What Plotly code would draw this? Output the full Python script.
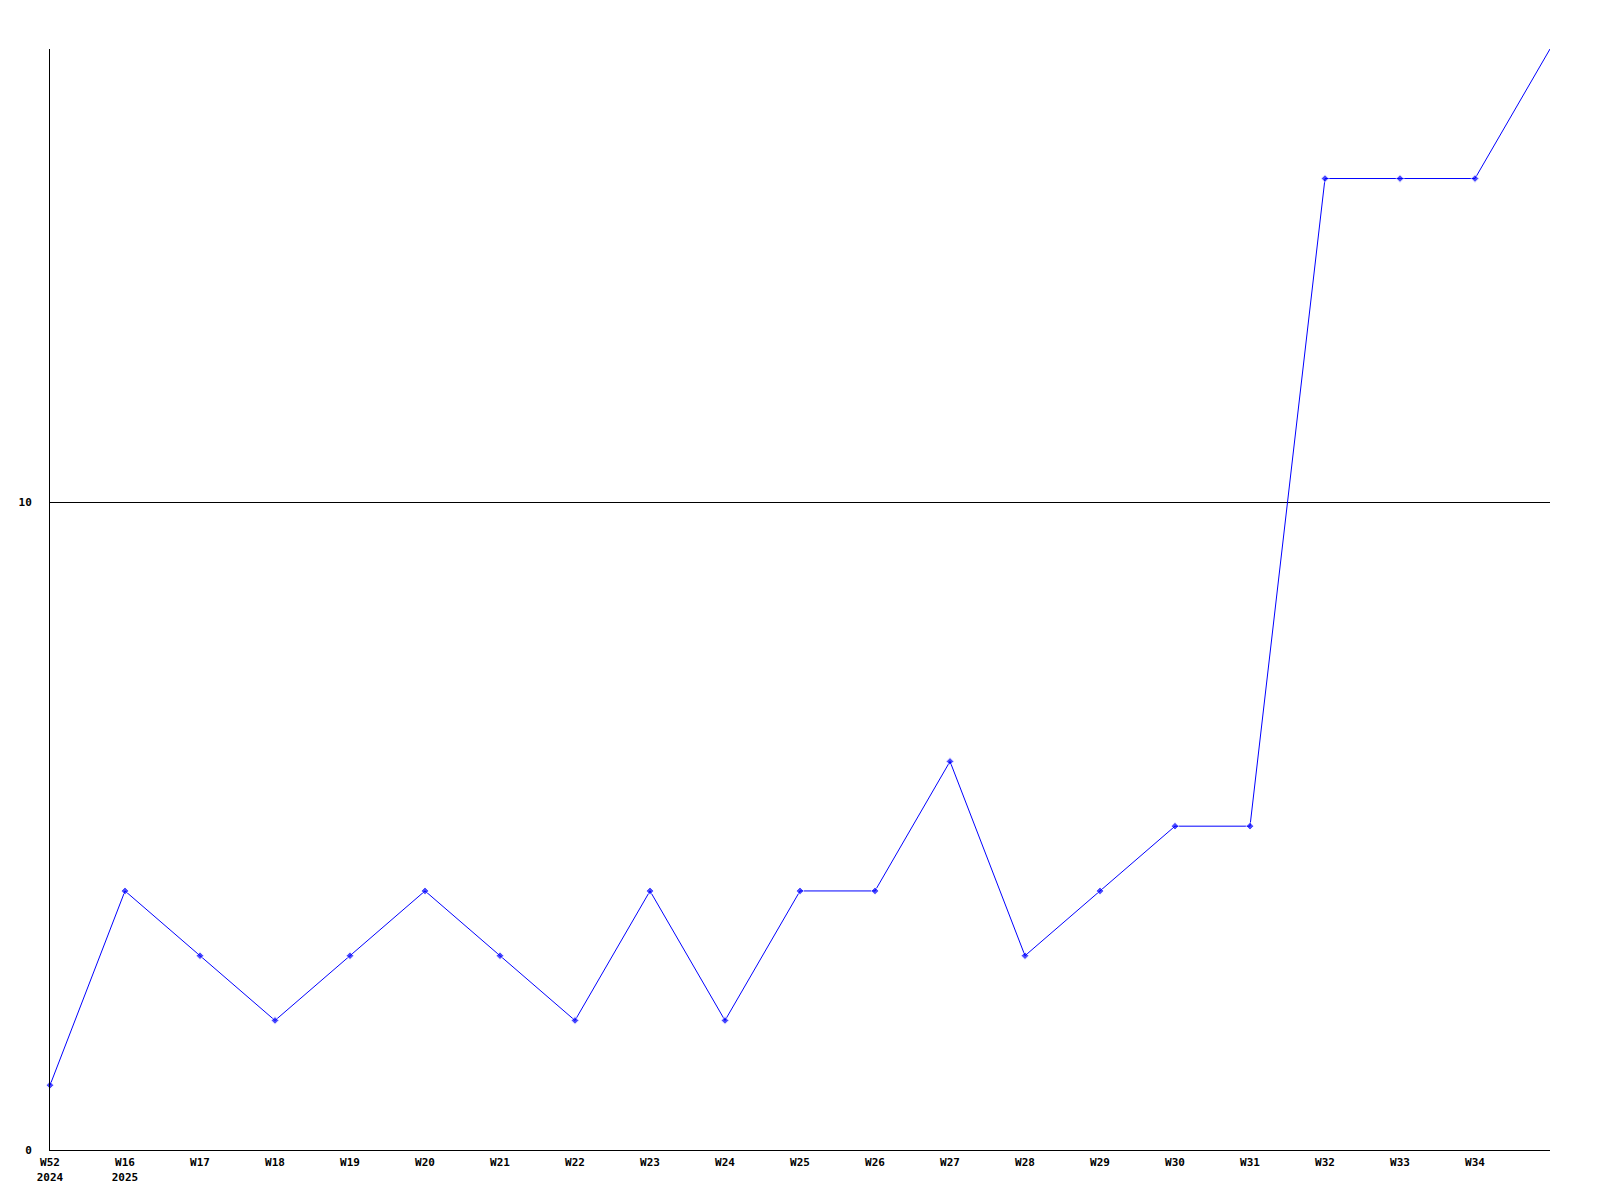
import plotly.graph_objects as go

weeks = ["W52<br>2024", "W16<br>2025", "W17", "W18", "W19", "W20", "W21", "W22", "W23", "W24",
         "W25", "W26", "W27", "W28", "W29", "W30", "W31", "W32", "W33", "W34", ""]
values = [1, 4, 3, 2, 3, 4, 3, 2, 4, 2, 4, 4, 6, 3, 4, 5, 5, 15, 15, 15, 17]
y_ticks = [0, 10]

xs = list(range(len(values)))
marker_sizes = [6] * (len(values) - 1) + [0]

fig = go.Figure()
fig.add_trace(go.Scatter(
    x=xs, y=values, mode="lines+markers",
    line=dict(color="#0000ff", width=1),
    marker=dict(color="#0000ff", size=marker_sizes, symbol="diamond"),
    cliponaxis=False, showlegend=False,
))

font = dict(family="DejaVu Sans Mono", size=11, color="#000000", weight="bold")

fig.update_layout(
    width=1600, height=1200,
    margin=dict(l=42, r=58, t=41, b=58),
    paper_bgcolor="white", plot_bgcolor="white",
    font=font,
    xaxis=dict(
        range=[0, len(values) - 1],
        tickmode="array", tickvals=xs[:-1], ticktext=weeks[:-1],
        showgrid=False, zeroline=False,
        showline=True, linecolor="black", linewidth=1,
        ticks="", tickfont=font, ticklabelstandoff=2,
    ),
    yaxis=dict(
        range=[0, 17],
        tickmode="array", tickvals=y_ticks, ticktext=[str(v) for v in y_ticks],
        showgrid=True, gridcolor="black", gridwidth=1,
        zeroline=False,
        showline=True, linecolor="black", linewidth=1,
        ticks="", tickfont=font, ticklabelstandoff=15,
    ),
)

fig.write_html("out.html")
